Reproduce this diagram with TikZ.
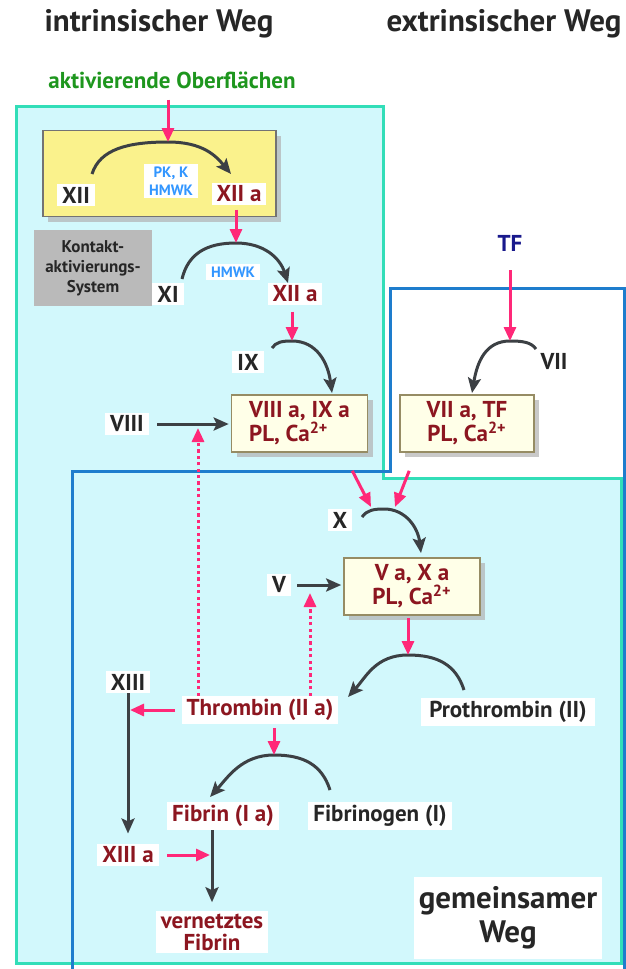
\documentclass[tikz,border=0pt]{standalone}
\usepackage{fontspec}
\setmainfont{PT Sans}
\usetikzlibrary{arrows.meta,calc,shadows}

\definecolor{tuerkis}{RGB}{50,222,184}
\definecolor{hellcyan}{RGB}{210,248,252}
\definecolor{blaurand}{RGB}{30,125,205}
\definecolor{pinkrot}{RGB}{255,40,120}
\definecolor{dunkelrot}{RGB}{140,22,32}
\definecolor{hellblau}{RGB}{50,150,255}
\definecolor{tfblau}{RGB}{25,25,140}
\definecolor{gruen}{RGB}{30,150,30}
\definecolor{pfeilgrau}{RGB}{60,64,68}
\definecolor{gelb}{RGB}{250,242,140}
\definecolor{creme}{RGB}{255,255,232}
\definecolor{olivgrau}{RGB}{150,140,100}

\begin{document}
\begin{tikzpicture}[
  x=0.5pt, y=-0.5pt,
  schatten/.style={
    drop shadow={shadow xshift=2.5pt, shadow yshift=-2.5pt,
      fill=black!30, opacity=.7}
  },
  titel/.style={
    font=\fontsize{15.5}{18}\selectfont\bfseries,
    text=black!85
  },
  lbl/.style={
    fill=white,
    inner xsep=2.5pt,
    inner ysep=1.5pt,
    font=\fontsize{11.5}{13}\selectfont\bfseries,
    text=black!85
  },
  aktiv/.style={
    lbl,
    text=dunkelrot
  },
  kofaktor/.style={
    lbl,
    align=center,
    text=hellblau,
    font=\fontsize{7.5}{9}\selectfont\bfseries
  },
  komplex/.style={
    schatten,
    draw=olivgrau,
    fill=creme,
    line width=.8pt,
    minimum width=68pt,
    minimum height=28.5pt,
    text=dunkelrot,
    font=\fontsize{11.5}{12}\selectfont\bfseries
  },
  pfeil/.style={
    -{Triangle[length=7pt,width=6pt]},
    line width=1.5pt,
    pinkrot
  },
  rueck/.style={
    pfeil,
    dash pattern=on 1.6pt off 1.6pt
  },
  reakt/.style={
    -{Stealth[length=7.5pt,width=6.5pt,inset=1.5pt]},
    line width=1.5pt,
    pfeilgrau
  }
]

\clip (0,0) rectangle (626,969);

% Rahmen: intrinsisch + gemeinsam, extrinsisch + gemeinsam
\filldraw[fill=hellcyan, draw=tuerkis, line width=1.5pt]
  (16,106) -- (383,106) -- (383,478) -- (621,478)
  -- (621,963) -- (16,963) -- cycle;
\draw[blaurand, line width=1.5pt]
  (72,975) -- (72,471) -- (390,471) -- (390,288)
  -- (624,288) -- (624,975);

% Ueberschriften
\node[titel] (intr) at (159,24) {intrinsischer Weg};
\node[titel] (extr) at (504,24) {extrinsischer Weg};
\node[font=\fontsize{11.5}{13}\selectfont\bfseries, text=gruen]
  (akt) at (172,80) {aktivierende Oberflächen};
\node[titel] (tf) at (510,243) {\fontsize{11.5}{13}\selectfont\color{tfblau}TF};

% Kontaktaktivierung
\node[schatten, draw=black!55, fill=gelb, line width=.8pt,
  minimum width=116.5pt, minimum height=43pt] (zymbox) at (159.5,173.5) {};
\node[fill=black!27, minimum width=59pt, minimum height=38pt,
  align=center, font=\fontsize{8.5}{10}\selectfont\bfseries,
  text=black!85] (kas) at (93,268) {Kontakt-\\aktivierungs-\\System};

\node[lbl] (xii) at (76,195) {XII};
\node[kofaktor] (pkk) at (171,181) {PK, K\\HMWK};
\node[aktiv] (xiia) at (239,194) {XII a};
\node[lbl] (xi) at (168,294) {XI};
\node[kofaktor] (hmwk) at (233,272) {HMWK};
\node[aktiv] (xiiab) at (295,294) {XII a};
\node[lbl] (ix) at (248,362) {IX};
\node[lbl] (viii) at (127,424) {VIII};
\node[lbl] (vii) at (554,362) {VII};

% Tenase- und Prothrombinase-Komplexe
\node[komplex, align=left] (tenase) at (299.5,423.5)
  {VIII a, IX a\\PL, Ca\textsuperscript{2+}};
\node[komplex, align=center, minimum width=67pt] (exttenase) at (467,423.5)
  {VII a, TF\\PL, Ca\textsuperscript{2+}};
\node[komplex, align=center] (prothrase) at (412,586.5)
  {V a, X a\\PL, Ca\textsuperscript{2+}};

% gemeinsamer Weg
\node[lbl] (xl) at (340,520) {X};
\node[lbl] (vl) at (279,585) {V};
\node[lbl] (xiii) at (128,682) {XIII};
\node[aktiv] (thr) at (260,710) {Thrombin (II a)};
\node[lbl, inner xsep=4pt] (prothr) at (508,712) {Prothrombin (II)};
\node[aktiv] (fibrin) at (223,816) {Fibrin (I a)};
\node[lbl] (fibrinogen) at (380,816) {Fibrinogen (I)};
\node[aktiv] (xiiia) at (128,855) {XIII a};
\node[aktiv, align=center, font=\fontsize{11.5}{11}\selectfont\bfseries]
  (vernetzt) at (212,932) {vernetztes\\Fibrin};
\node[lbl, titel, fill=white, align=center, inner ysep=5pt,
  font=\fontsize{15.5}{17}\selectfont\bfseries]
  (gemein) at (508,918) {gemeinsamer\\Weg};

% Umsatzboegen: Start, Scheitel, Ende
\coordinate (s1) at (92,174);  \coordinate (p1) at (168,142); \coordinate (e1) at (231,174);
\coordinate (s2) at (182,279); \coordinate (p2) at (236,243); \coordinate (e2) at (288,283);
\coordinate (s3) at (272,348); \coordinate (p3) at (292,341); \coordinate (e3) at (332,393);
\coordinate (s4) at (536,349); \coordinate (p4) at (510,341); \coordinate (e4) at (472,393);
\coordinate (s5) at (362,517); \coordinate (p5) at (384,509); \coordinate (e5) at (421,553);
\coordinate (s6) at (464,690); \coordinate (p6) at (408,655); \coordinate (e6) at (348,697);
\coordinate (s7) at (330,790); \coordinate (p7) at (274,755); \coordinate (e7) at (210,797);
\coordinate (fb1) at (198,428);
\coordinate (fb2) at (310,593);

\draw[reakt] (s1) .. controls +(8,-25) and +(-40,0) .. (p1)
  .. controls +(35,0) and +(-15,-18) .. (e1);
\draw[reakt] (s2) .. controls +(6,-25) and +(-30,0) .. (p2)
  .. controls +(28,0) and +(-8,-25) .. (e2);
\draw[reakt] (s3) .. controls +(4,-6) and +(-10,0) .. (p3)
  .. controls +(25,0) and +(-4,-30) .. (e3);
\draw[reakt] (s4) .. controls +(-5,-7) and +(12,0) .. (p4)
  .. controls +(-25,0) and +(5,-30) .. (e4);
\draw[reakt] (s5) .. controls +(5,-7) and +(-10,0) .. (p5)
  .. controls +(22,0) and +(-3,-25) .. (e5);
\draw[reakt] (s6) .. controls +(-8,-25) and +(30,0) .. (p6)
  .. controls +(-32,0) and +(18,-20) .. (e6);
\draw[reakt] (s7) .. controls +(-8,-25) and +(30,0) .. (p7)
  .. controls +(-32,0) and +(18,-20) .. (e7);

% Aktivierung (pink)
\draw[pfeil, shorten <=2pt] (akt.south -| p1) -- (p1);
\draw[pfeil, shorten <=2pt] (xiia.south -| p2) -- (p2);
\draw[pfeil, shorten <=3pt] (xiiab.south -| p3) -- (p3);
\draw[pfeil, shorten <=6pt] (tf.south) -- (p4);
\draw[pfeil] ($(tenase.south east)+(-16,18)$) -- ($(p5)+(-13,-2)$);
\draw[pfeil] ($(exttenase.south west)+(10,18)$) -- ($(p5)+(11,-2)$);
\draw[pfeil, shorten <=1pt] (prothrase.south -| p6) -- (p6);
\draw[pfeil, shorten <=2pt] (thr.south -| p7) -- (p7);
\draw[pfeil, shorten <=3pt, shorten >=1pt] (thr.west) -- (thr.west -| xiii);
\draw[pfeil, shorten <=4pt, shorten >=1pt] (xiiia.east) -- (xiiia.east -| vernetzt);

% Rueckkopplung durch Thrombin
\draw[rueck] (thr.north -| fb1) -- (fb1);
\draw[rueck] (thr.north -| fb2) -- (fb2);

% Umsetzungen
\draw[reakt, shorten <=4pt, shorten >=1pt] (viii) -- (viii -| tenase.west);
\draw[reakt, shorten <=3pt, shorten >=1pt] (vl) -- (vl -| prothrase.west);
\draw[reakt, shorten >=5pt] (xiii) -- (xiiia);
\draw[reakt, shorten >=4pt] (fibrin.south -| vernetzt) -- (vernetzt);

\end{tikzpicture}
\end{document}
